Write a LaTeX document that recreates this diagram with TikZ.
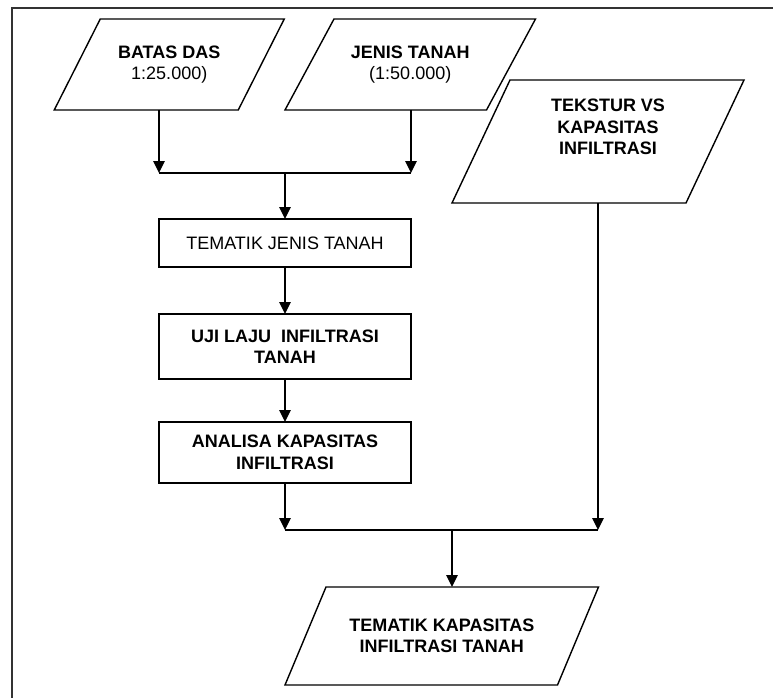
\documentclass[tikz,border=0pt]{standalone}
\usepackage{fontspec}
\setmainfont{Liberation Sans}
\usetikzlibrary{arrows.meta}
\begin{document}
\begin{tikzpicture}[x=1pt,y=-1pt,
  flow/.style={line width=1.4pt, draw=black},
  arr/.style={flow, -{Triangle[width=11.5pt,length=12pt]}},
  txt/.style={inner sep=0pt, outer sep=0pt, align=center,
    font=\fontsize{18}{21.5}\selectfont},
  procbox/.style={txt, draw, line width=1.4pt, minimum width=252pt},
  iobox/.style={txt}
]
\useasboundingbox (0,0) rectangle (773,698);

% page frame (top and left sides)
\draw[line width=2pt, draw=black!80] (773,8) -- (12,8) -- (12,698);

% input / output data (parallelograms drawn below)
\node[iobox, minimum width=184pt, minimum height=91pt] (batas) at (169.25,64.5)
  {\bfseries BATAS DAS\\1:25.000)};
\node[iobox, minimum width=201.5pt, minimum height=91pt] (jenis) at (410.25,64.5)
  {\bfseries JENIS TANAH\\(1:50.000)};
\node[iobox, minimum width=234pt, minimum height=123pt] (tekstur) at (598,141.5)
  {\hspace*{20pt}\bfseries TEKSTUR VS\\\hspace*{20pt}\bfseries KAPASITAS\\\hspace*{20pt}\bfseries INFILTRASI\\[8pt]};
\node[iobox, minimum width=272.5pt, minimum height=98pt] (hasil) at (441.75,636)
  {\bfseries TEMATIK KAPASITAS\\\bfseries INFILTRASI TANAH};

\foreach \n/\s in {batas/23, jenis/24.5, tekstur/29, hasil/20.5}
  \draw[flow] ([xshift=\s pt]\n.north west) -- ([xshift=\s pt]\n.north east)
    -- ([xshift=-\s pt]\n.south east) -- ([xshift=-\s pt]\n.south west) -- cycle;

% processing steps
\node[procbox, minimum height=48pt] (tema) at (285,243) {TEMATIK JENIS TANAH};
\node[procbox, minimum height=65pt] (uji) at (285,346.5)
  {\bfseries UJI LAJU\ \ INFILTRASI\\\bfseries TANAH};
\node[procbox, minimum height=61pt] (analisa) at (285,452.5)
  {\bfseries ANALISA KAPASITAS\\\bfseries INFILTRASI};

% junction points
\coordinate (merge1) at (285,173);
\coordinate (merge2) at (452,530);

% inputs joined into the soil map
\draw[arr] (batas.south -| tema.west) -- (tema.west |- merge1);
\draw[arr] (jenis.south -| tema.east) -- (tema.east |- merge1);
\draw[flow] (tema.west |- merge1) -- (tema.east |- merge1);
\draw[arr] (merge1) -- (tema.north);

\draw[arr] (tema.south) -- (uji.north);
\draw[arr] (uji.south) -- (analisa.north);

% analysis and texture table joined into the result
\draw[arr] (analisa.south) -- (analisa.south |- merge2);
\draw[arr] (tekstur.south) -- (tekstur.south |- merge2);
\draw[flow] (analisa.south |- merge2) -- (tekstur.south |- merge2);
\draw[arr] (merge2) -- (merge2 |- hasil.north);
\end{tikzpicture}
\end{document}
